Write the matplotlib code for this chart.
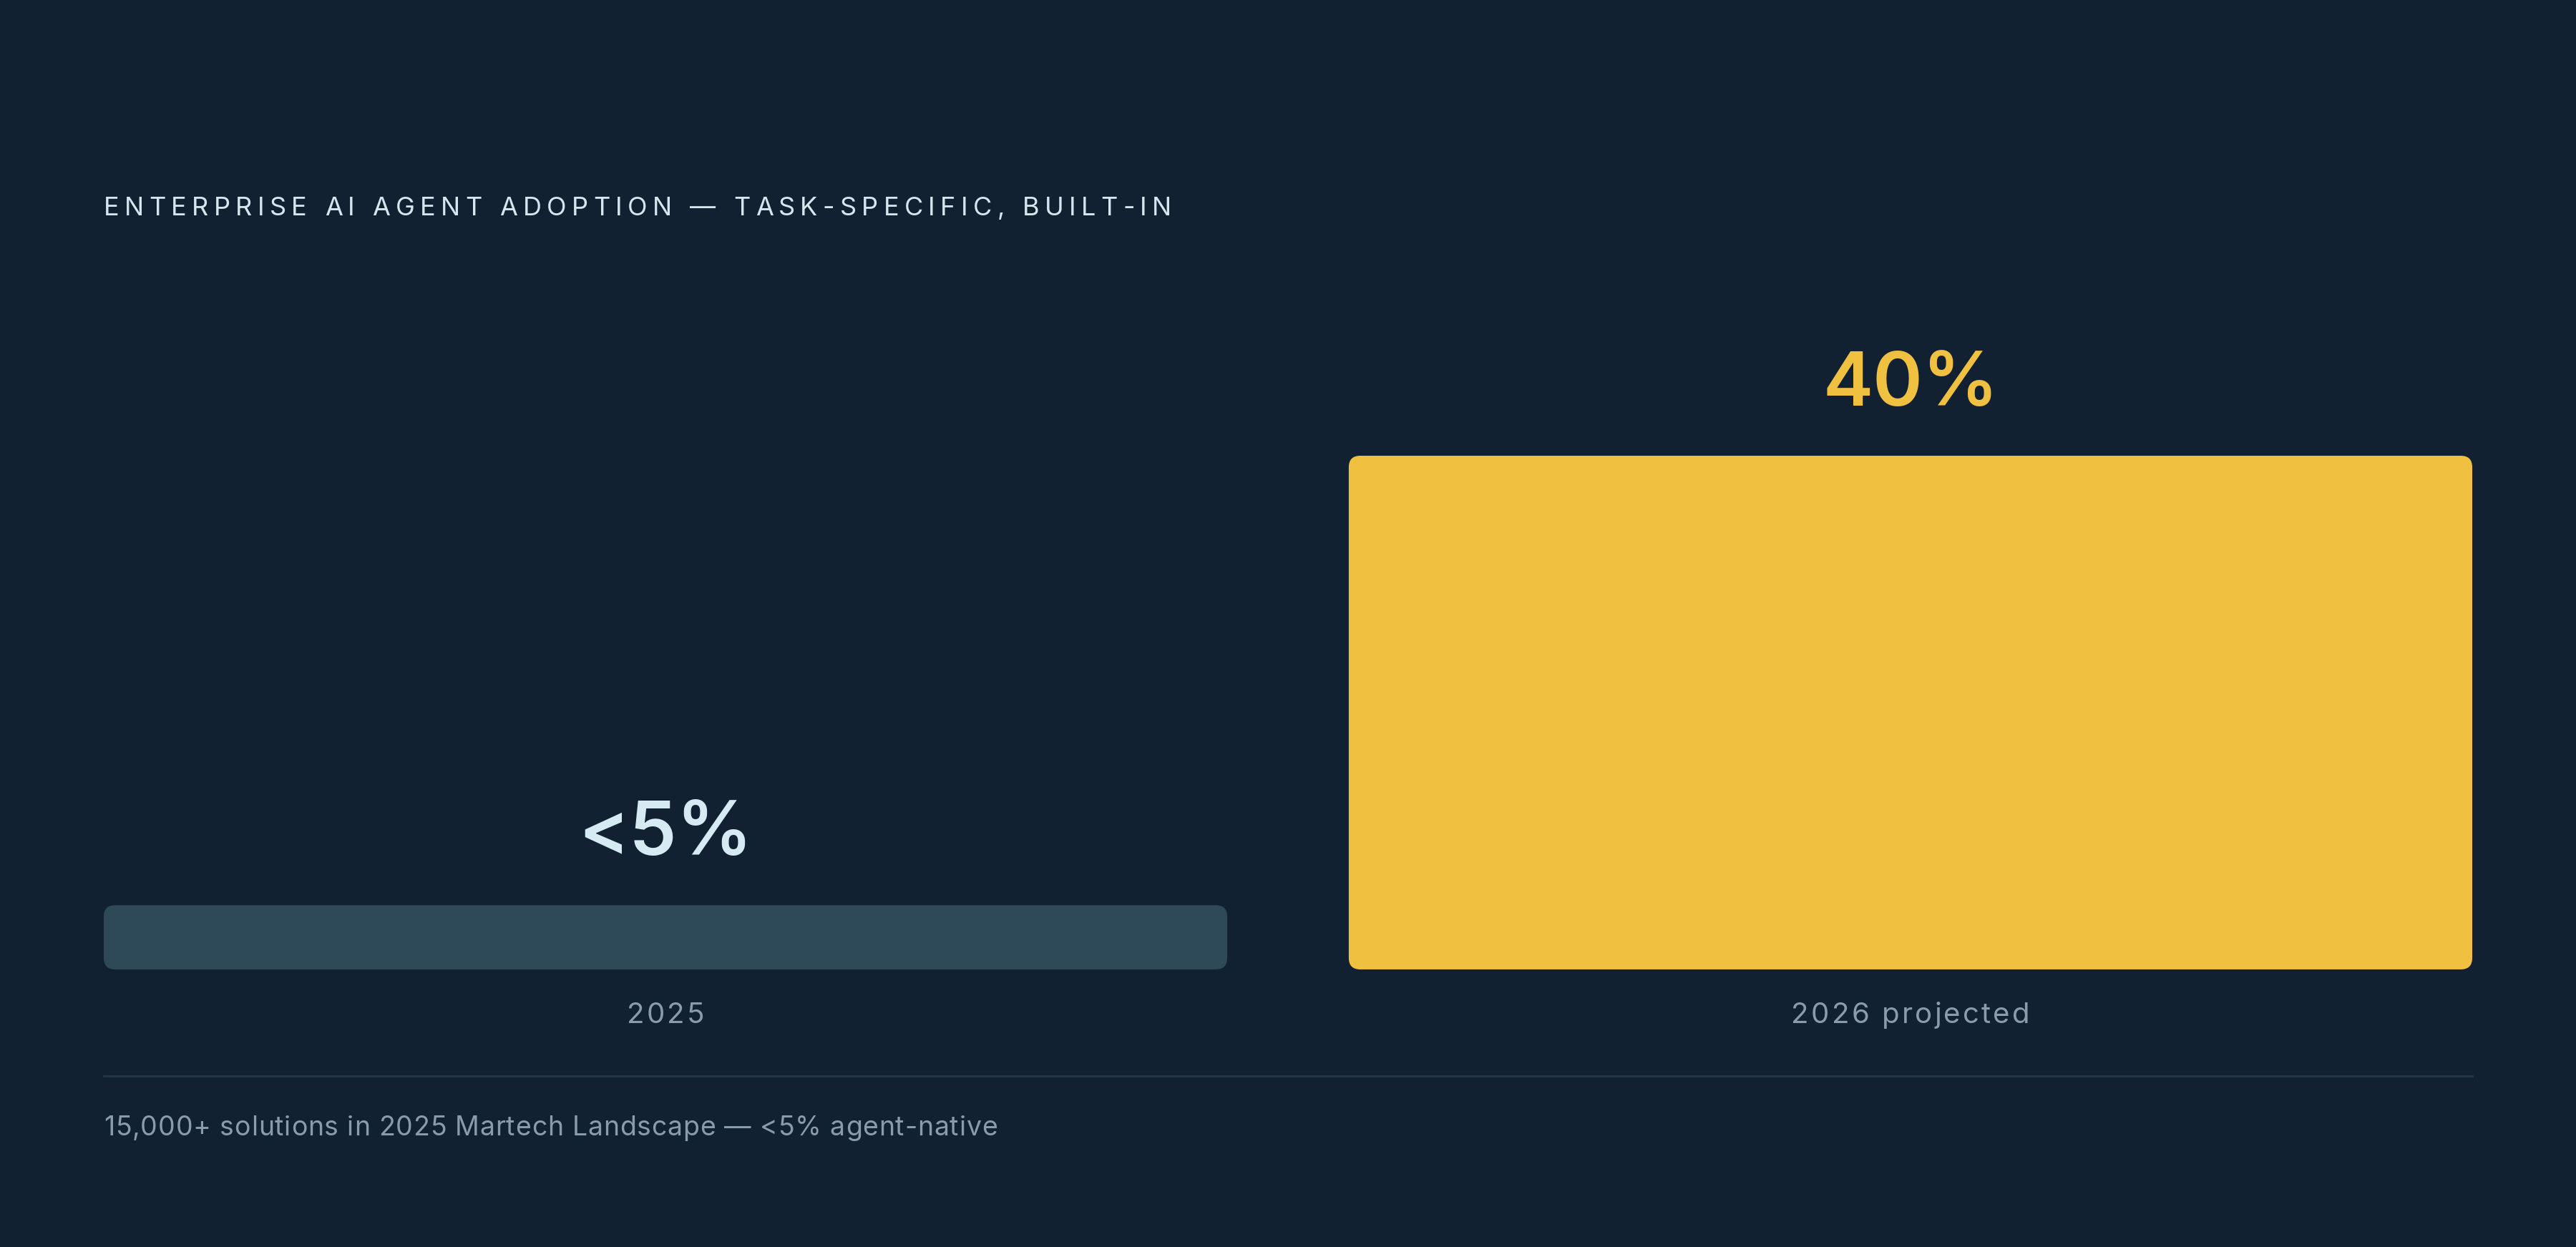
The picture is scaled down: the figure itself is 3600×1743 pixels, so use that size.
import matplotlib
matplotlib.use("Agg")
import matplotlib.pyplot as plt
from matplotlib.patches import FancyBboxPatch

# ---- data ----
categories = ["2025", "2026 projected"]
values = [5, 40]
value_labels = ["<5%", "40%"]
title = "ENTERPRISE AI AGENT ADOPTION — TASK-SPECIFIC, BUILT-IN"
footer = "15,000+ solutions in 2025 Martech Landscape — <5% agent-native"

# ---- style ----
BG = "#112131"
BAR_COLORS = ["#2E4A58", "#F0C040"]
VALUE_COLORS = ["#D6EAF4", "#F0C040"]
TITLE_C = "#D6E6EE"
LABEL_C = "#8A9BAA"
DIV_C = "#22374A"
FONT = ["Inter", "DejaVu Sans"]

W, H = 3600, 1743
DPI = 100
fig = plt.figure(figsize=(W / DPI, H / DPI), dpi=DPI, facecolor=BG)

left_px, right_px = 145, 3455
bottom_px, top_px = 1355, 637
ax = fig.add_axes([left_px / W, 1 - bottom_px / H,
                   (right_px - left_px) / W, (bottom_px - top_px) / H])
ax.set_facecolor(BG)
ax.axis("off")

bw = 0.9024
xs = list(range(len(categories)))
ax.set_xlim(-bw / 2, xs[-1] + bw / 2)
ax.set_ylim(0, max(values))

bars = ax.bar(xs, values, width=bw, color=BAR_COLORS, linewidth=0)

ax_w_px = right_px - left_px
ax_h_px = bottom_px - top_px
x_per_px = (xs[-1] + bw) / ax_w_px
y_per_px = max(values) / ax_h_px
r_px = 16
for b, c in zip(bars, BAR_COLORS):
    b.set_visible(False)
    p = FancyBboxPatch((b.get_x(), b.get_y()), b.get_width(), b.get_height(),
                       boxstyle=f"round,pad=0,rounding_size={r_px * x_per_px}",
                       mutation_aspect=y_per_px / x_per_px,
                       facecolor=c, edgecolor="none", zorder=2)
    ax.add_patch(p)

# value labels above bars (offset in points)
for x, v, lab, col in zip(xs, values, value_labels, VALUE_COLORS):
    ax.annotate(lab, (x, v), xytext=(0, 70 * 72 / DPI), textcoords="offset points",
                ha="center", va="baseline", fontsize=76, fontweight="semibold",
                color=col, family=FONT)

fig.canvas.draw()
renderer = fig.canvas.get_renderer()


def char_widths(s, size):
    ws = []
    for ch in s:
        t = fig.text(0, 0, ch if ch != " " else "\u00a0", fontsize=size, family=FONT)
        ws.append(t.get_window_extent(renderer).width)
        t.remove()
    return ws


def spaced_text(s, size, color, y_top_px, target_w, x_left_px=None, x_center_px=None):
    ws = char_widths(s, size)
    gap = (target_w - sum(ws)) / (len(s) - 1)
    total = sum(ws) + gap * (len(s) - 1)
    xpos = x_left_px if x_left_px is not None else x_center_px - total / 2
    for ch, w in zip(s, ws):
        if ch != " ":
            fig.text(xpos / W, 1 - y_top_px / H, ch, fontsize=size, color=color,
                     family=FONT, va="baseline", ha="left")
        xpos += w + gap


# title
spaced_text(title, 26, TITLE_C, 301, 1492, x_left_px=left_px)

# category labels below bars
cat_widths = [108, 333]
for x, lab, tw in zip(xs, categories, cat_widths):
    cx = ax.transData.transform((x, 0))[0]
    spaced_text(lab, 29, LABEL_C, 1430, tw, x_center_px=cx)

# divider
fig.add_artist(plt.Line2D([left_px / W, right_px / W], [1 - 1504 / H, 1 - 1504 / H],
                          color=DIV_C, linewidth=2))

# footer
spaced_text(footer, 27, LABEL_C, 1587, 1249, x_left_px=left_px)

fig.savefig("out.png", dpi=DPI, facecolor=BG)
